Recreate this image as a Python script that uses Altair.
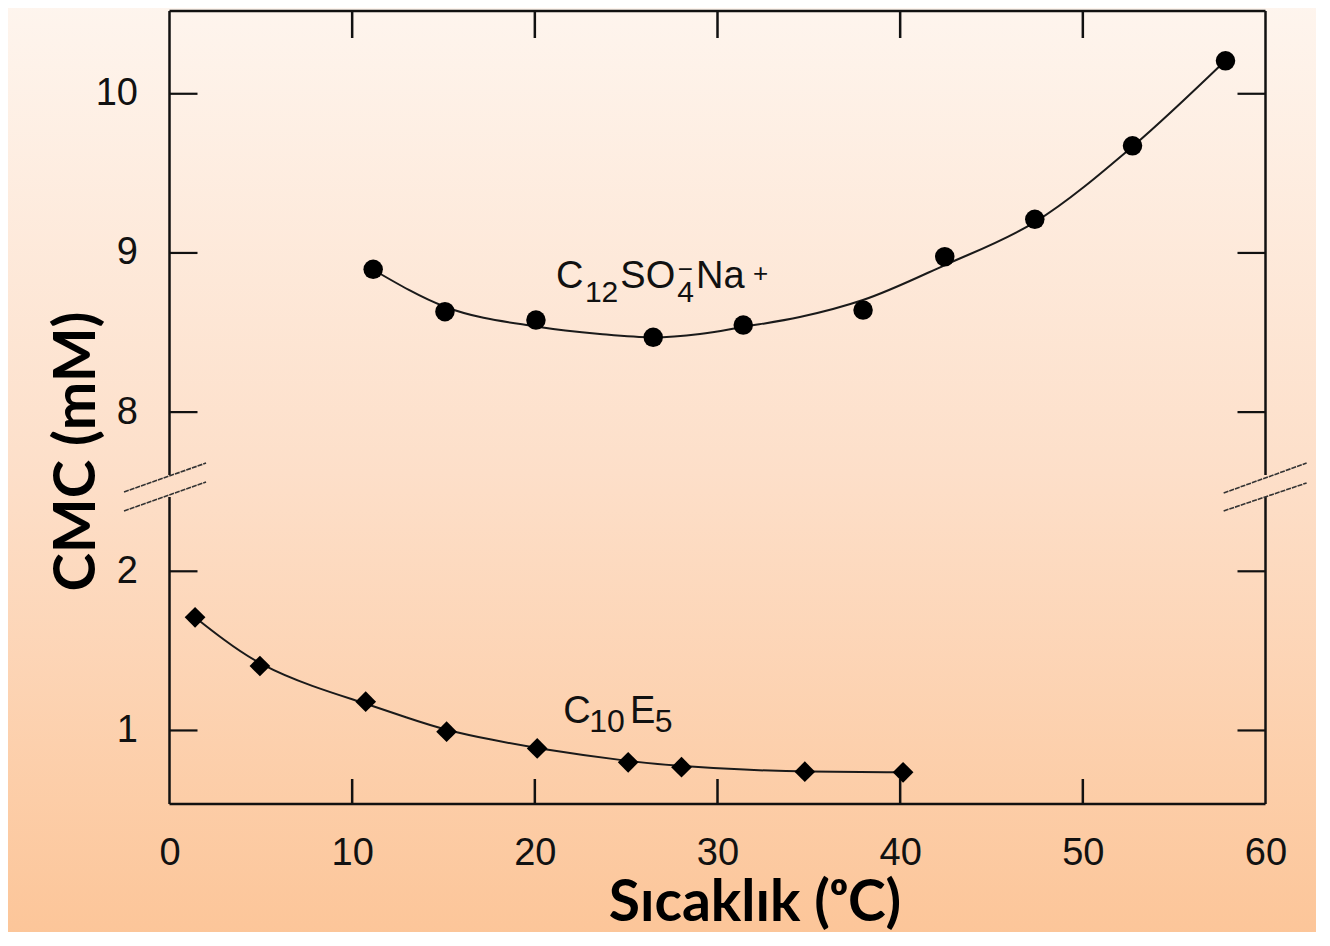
import altair as alt
import pandas as pd

W, H = 1096, 793

# ---------------- data ----------------
# C12SO4- Na+ : measured points (temperature degC, CMC mM)
sds_temp = [11.15, 15.08, 20.06, 26.48, 31.41, 37.97, 42.44, 47.37, 52.72, 57.81]
sds_cmc = [8.897, 8.631, 8.578, 8.470, 8.547, 8.641, 8.976, 9.211, 9.673, 10.207]
# C12SO4- Na+ : smooth fitted curve
sds_fit_temp = [11.13, 15.08, 20.06, 23.56, 26.46, 29.04, 31.39, 34.51, 37.96, 42.45, 47.37, 52.74, 57.77]
sds_fit_cmc = [8.896, 8.662, 8.538, 8.491, 8.470, 8.491, 8.535, 8.597, 8.704, 8.924, 9.194, 9.671, 10.205]

# C10E5 : measured points
c10_temp = [1.40, 4.95, 10.74, 15.17, 20.13, 25.11, 28.03, 34.78, 40.16]
c10_cmc = [1.711, 1.405, 1.181, 0.992, 0.887, 0.800, 0.769, 0.741, 0.737]
# C10E5 : fitted curve
c10_fit_temp = [1.40, 2.90, 4.95, 7.80, 10.74, 13.00, 15.17, 17.70, 20.13, 25.11, 28.03, 31.50, 34.78, 40.16]
c10_fit_cmc = [1.711, 1.575, 1.410, 1.275, 1.170, 1.080, 1.000, 0.940, 0.887, 0.805, 0.775, 0.752, 0.741, 0.737]

# axis ticks
x_ticks = [0, 10, 20, 30, 40, 50, 60]
x_inner_ticks = [10, 20, 30, 40, 50]
y_tick_values = [1, 2, 8, 9, 10]

# broken axis: values above the break are shifted down by 5
y_break_shift = 5
y_min, y_max = 0.538, 10.52
break_lo, break_hi = 2.467, 2.605  # gap in the frame (display units)

# series labels (text fragments, with anchors in data units)
label_text = ["C", "12", "SO", "4", "\u2212", "Na", "+", "C", "10", "E", "5"]
label_temp = [21.16, 22.74, 24.68, 27.79, 27.83, 28.82, 31.95, 21.55, 22.98, 25.21, 26.57]
label_cmc = [8.778, 8.693, 8.778, 8.693, 8.893, 8.778, 8.868, 1.045, 0.992, 1.045, 0.992]
label_role = ["main", "sub", "main", "sub", "sup", "main", "sup", "main2", "sub2", "main2", "sub2"]

# ---------------- scales & axes ----------------
disp_expr = f"datum.cmc > 5 ? datum.cmc - {y_break_shift} : datum.cmc"
y_disp_min = y_min
y_disp_max = y_max - y_break_shift

xs = alt.Scale(domain=[0, 60], nice=False, zero=False)
ys = alt.Scale(domain=[y_disp_min, y_disp_max], nice=False, zero=False)

x_axis = alt.Axis(
    values=x_ticks, domain=False, ticks=False, grid=False, labelFlush=False, zindex=2,
    labelFont="Liberation Sans", labelFontSize=38, labelColor="#111111", labelPadding=30,
    title="Sıcaklık (ᵒC)", titleFont="Lato", titleFontWeight="bold", titleFontSize=57,
    titleColor="#000000", titleX=585, titleY=116, titleAlign="center",
    titleBaseline="alphabetic",
)
y_disp_ticks = [v if v < 5 else v - y_break_shift for v in y_tick_values]
y_axis = alt.Axis(
    values=y_disp_ticks, domain=False, ticks=False, grid=False, labelFlush=False, zindex=2,
    labelExpr=f"datum.value > 2.5 ? datum.value + {y_break_shift} : datum.value",
    labelFont="Liberation Sans", labelFontSize=38, labelColor="#111111", labelPadding=32,
    title="CMC (mM)", titleFont="Lato", titleFontWeight="bold", titleFontSize=58,
    titleColor="#000000", titleX=-75.5, titleY=440, titleAngle=270, titleAlign="center",
    titleBaseline="alphabetic",
)

X = alt.X("temp:Q", scale=xs, axis=x_axis)
Y = alt.Y("disp:Q", scale=ys, axis=y_axis)

# ---------------- background ----------------
bg = alt.Chart(pd.DataFrame({"k": [0]})).mark_rect(
    fill=alt.LinearGradient(
        gradient="linear",
        stops=[
            alt.GradientStop(color="#FEF5EE", offset=0),
            alt.GradientStop(color="#FDDFC9", offset=0.5),
            alt.GradientStop(color="#FCC598", offset=1),
        ],
        x1=0, x2=0, y1=0, y2=1,
    )
).encode(x=alt.value(-170), x2=alt.value(W + 60), y=alt.value(-10), y2=alt.value(H + 140))

# ---------------- frame (with breaks) ----------------
frame_df = pd.DataFrame({
    "temp":  [0, 0, 0, 0, 60, 60],
    "temp2": [60, 60, 0, 0, 60, 60],
    "disp":  [y_disp_min, y_disp_max, y_disp_min, break_hi, y_disp_min, break_hi],
    "disp2": [y_disp_min, y_disp_max, break_lo, y_disp_max, break_lo, y_disp_max],
})
frame = alt.Chart(frame_df).mark_rule(color="#111111", strokeWidth=2.5).encode(
    x=X, y=Y, x2="temp2:Q", y2="disp2:Q"
)

# break marks (pairs of slanted lines across the left and right frame)
brk_df = pd.DataFrame({
    "temp":  [-2.49, -2.49, 57.71, 57.71],
    "temp2": [2.00, 2.00, 62.25, 62.25],
    "disp":  [2.498, 2.379, 2.492, 2.379],
    "disp2": [2.680, 2.561, 2.680, 2.555],
})
breaks = alt.Chart(brk_df).mark_rule(color="#333333", strokeWidth=1.6, strokeDash=[5, 1]).encode(
    x=X, y=Y, x2="temp2:Q", y2="disp2:Q"
)

# ---------------- inward ticks ----------------
xt_df = pd.DataFrame({"temp": x_inner_ticks})
tick_bottom = alt.Chart(xt_df).mark_rule(color="#111111", strokeWidth=2.5).encode(
    x=X, y=alt.value(H), y2=alt.value(H - 25)
)
tick_top = alt.Chart(xt_df).mark_rule(color="#111111", strokeWidth=2.5).encode(
    x=X, y=alt.value(0), y2=alt.value(27)
)
yt_df = pd.DataFrame({"cmc": y_tick_values})
tick_left = alt.Chart(yt_df).transform_calculate(disp=disp_expr).mark_rule(
    color="#111111", strokeWidth=2.2).encode(y=Y, x=alt.value(0), x2=alt.value(28))
tick_right = alt.Chart(yt_df).transform_calculate(disp=disp_expr).mark_rule(
    color="#111111", strokeWidth=2.2).encode(y=Y, x=alt.value(W), x2=alt.value(W - 28))

# ---------------- series ----------------
sds_fit = alt.Chart(pd.DataFrame({"temp": sds_fit_temp, "cmc": sds_fit_cmc})).transform_calculate(
    disp=disp_expr).mark_line(color="#1a1a1a", strokeWidth=2, interpolate="monotone").encode(x=X, y=Y)
c10_fit = alt.Chart(pd.DataFrame({"temp": c10_fit_temp, "cmc": c10_fit_cmc})).transform_calculate(
    disp=disp_expr).mark_line(color="#1a1a1a", strokeWidth=2, interpolate="basis").encode(x=X, y=Y)

sds_pts = alt.Chart(pd.DataFrame({"temp": sds_temp, "cmc": sds_cmc})).transform_calculate(
    disp=disp_expr).mark_point(shape="circle", filled=True, size=380, color="#000000", opacity=1).encode(x=X, y=Y)
c10_pts = alt.Chart(pd.DataFrame({"temp": c10_temp, "cmc": c10_cmc})).transform_calculate(
    disp=disp_expr).mark_point(shape="diamond", filled=True, size=430, color="#000000", opacity=1).encode(x=X, y=Y)

# ---------------- series labels ----------------
lab = pd.DataFrame({"text": label_text, "temp": label_temp, "cmc": label_cmc, "role": label_role})
role_style = {
    "main": dict(fontSize=38, baseline="alphabetic"),
    "sub": dict(fontSize=30, baseline="alphabetic"),
    "sup": dict(fontSize=26, baseline="middle"),
    "main2": dict(fontSize=38, baseline="alphabetic"),
    "sub2": dict(fontSize=32, baseline="alphabetic"),
}
label_layers = []
for role, st in role_style.items():
    sub = lab[lab.role == role]
    label_layers.append(
        alt.Chart(sub).transform_calculate(disp=disp_expr).mark_text(
            font="Liberation Sans", color="#111111", align="left", **st
        ).encode(x=X, y=Y, text="text:N")
    )

chart = alt.layer(
    bg, frame, breaks, tick_bottom, tick_top, tick_left, tick_right,
    sds_fit, c10_fit, sds_pts, c10_pts, *label_layers,
).properties(
    width=W, height=H,
    padding={"left": 161.5, "top": 3, "right": 50, "bottom": 128},
    autosize=alt.AutoSizeParams(type="none"),
    background="#FDDCC4",
).configure_view(stroke=None)

chart.save("out.html", embed_options={"renderer": "svg", "actions": False})
